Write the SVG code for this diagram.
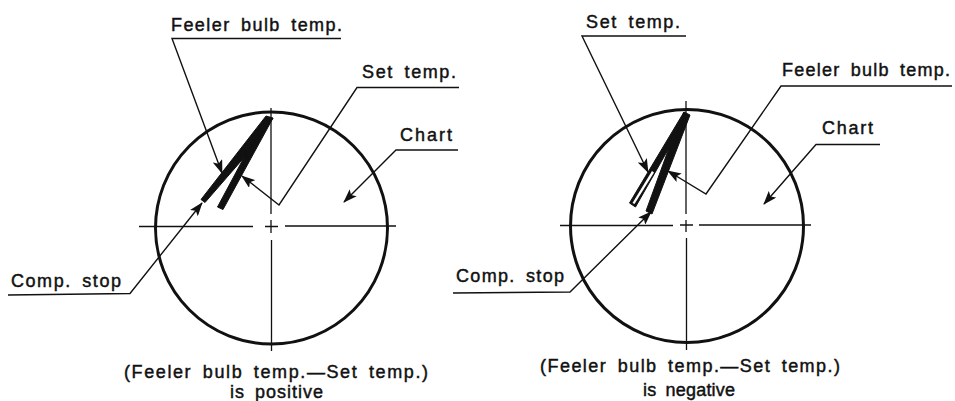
<svg xmlns="http://www.w3.org/2000/svg" width="955" height="401" viewBox="0 0 955 401">
<style>
text{font-family:"Liberation Sans",Arial,sans-serif;font-size:18px;word-spacing:4px;fill:#111;stroke:#111;stroke-width:.45}
.dial{fill:none;stroke:#111;stroke-width:3}
.axis{fill:none;stroke:#111;stroke-width:1.3}
.lead{fill:none;stroke:#111;stroke-width:1.4;stroke-linejoin:miter}
.ptr{fill:#111;stroke:#111;stroke-width:1;stroke-linejoin:round}
</style>
<defs>
<marker id="a" viewBox="0 0 14 10" refX="13" refY="5" markerWidth="14" markerHeight="10" markerUnits="userSpaceOnUse" orient="auto"><path d="M0 0L14 5L0 10L3 5Z" fill="#111"/></marker>
</defs>
<rect width="955" height="401" fill="#fff"/>
<g id="chart-left">
<ellipse class="dial" cx="271.5" cy="228" rx="116" ry="116"/>
<path class="axis" d="M139 226.500H253M285 226H396M265 226.500H278M271 108V214M271 220V233M271.500 240V351"/>
</g>
<g id="pointers-left">
<path class="ptr" d="M266 116L273 118L248 153L205 202.500L201 199.500Z"/>
<path class="ptr" d="M273 118L223 209.500L217.500 207L248 150Z"/>
</g>
<g id="chart-right">
<ellipse class="dial" cx="687" cy="226" rx="116.500" ry="116.500"/>
<path class="axis" d="M560 225.500H673M699 225H811M680 225H693M686 101V214M686 220V232M686.500 238V350"/>
</g>
<g id="pointers-right">
<path class="ptr" d="M684 112L690 115L652 214L646 211L669 148Z"/>
<path class="ptr" d="M684 112L629.500 203L635.500 207L669 148Z"/>
<path d="M652 171L654 172.500L634.500 204L632.500 203Z" fill="#fff"/>
</g>
<g id="connectors">
<path class="lead" d="M341 38.500H172L222 173" marker-end="url(#a)"/>
<path class="lead" d="M459 87.500H357L279 205L242 176" marker-end="url(#a)"/>
<path class="lead" d="M458 150H396L344 202" marker-end="url(#a)"/>
<path class="lead" d="M8 295L130 293.500L202 203" marker-end="url(#a)"/>
<path class="lead" d="M686 36H582L648 172" marker-end="url(#a)"/>
<path class="lead" d="M952 86H781L706 194L668 171" marker-end="url(#a)"/>
<path class="lead" d="M880 144.500H816L764 204" marker-end="url(#a)"/>
<path class="lead" d="M453 293L570 292L651 212" marker-end="url(#a)"/>
</g>
<g id="label-left">
<text x="171" y="31" textLength="171">Feeler bulb temp.</text>
<text x="362" y="78" textLength="94">Set temp.</text>
<text x="400" y="141" textLength="52">Chart</text>
<text x="11" y="287" textLength="110">Comp. stop</text>
<text x="124" y="378" textLength="304">(Feeler bulb temp.—Set temp.)</text>
<text x="230" y="398" textLength="93">is positive</text>
</g>
<g id="label-right">
<text x="782" y="76" textLength="168">Feeler bulb temp.</text>
<text x="586" y="28" textLength="94">Set temp.</text>
<text x="822" y="134" textLength="51">Chart</text>
<text x="456" y="282" textLength="108">Comp. stop</text>
<text x="540" y="372" textLength="300">(Feeler bulb temp.—Set temp.)</text>
<text x="643" y="396" textLength="92">is negative</text>
</g>
</svg>
